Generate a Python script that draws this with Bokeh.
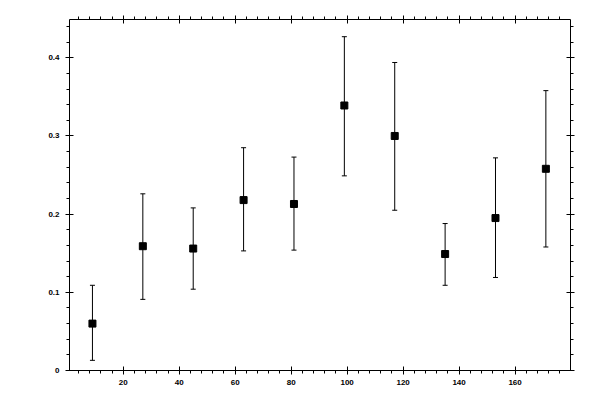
from bokeh.plotting import figure
from bokeh.models import (LinearAxis, Range1d, FixedTicker, Whisker, ColumnDataSource, TeeHead,
                          CustomLabelingPolicy)
from bokeh.embed import file_html
from bokeh.resources import INLINE

# data
x_vals = [9, 27, 45, 63, 81, 99, 117, 135, 153, 171]
y_vals = [0.060, 0.159, 0.156, 0.218, 0.213, 0.339, 0.300, 0.149, 0.195, 0.258]
y_upper = [0.109, 0.226, 0.208, 0.285, 0.273, 0.427, 0.394, 0.188, 0.272, 0.358]
y_lower = [0.013, 0.091, 0.104, 0.153, 0.154, 0.249, 0.205, 0.109, 0.119, 0.158]

x_ticks = [20, 40, 60, 80, 100, 120, 140, 160]
x_minor = [4 * i for i in range(1, 45)]
y_ticks = [0, 0.1, 0.2, 0.3, 0.4]
y_tick_labels = ["0", "0.1", "0.2", "0.3", "0.4"]
y_minor = [round(0.02 * i, 2) for i in range(0, 23)]

src = ColumnDataSource(dict(x=x_vals, y=y_vals, upper=y_upper, lower=y_lower))

p = figure(width=590, height=392, output_backend="svg", toolbar_location=None,
           x_range=Range1d(0.8, 179.8), y_range=Range1d(0, 0.449),
           x_axis_location=None, y_axis_location=None,
           min_border_left=69, min_border_right=20, min_border_top=19, min_border_bottom=22,
           background_fill_color="white", border_fill_color="white")
p.outline_line_color = None
p.xgrid.visible = False
p.ygrid.visible = False

xt = FixedTicker(ticks=x_ticks, minor_ticks=x_minor)
yt = FixedTicker(ticks=y_ticks, minor_ticks=y_minor)
overrides = {t: l for t, l in zip(y_ticks, y_tick_labels)}

no_labels = CustomLabelingPolicy(code="""
    const all = [...indices]
    for (const i of all) indices.unset(i)
    return indices
""")


def style(ax, labels):
    ax.axis_line_color = "black"
    ax.axis_line_width = 1
    ax.major_tick_line_color = "black"
    ax.minor_tick_line_color = "black"
    ax.major_tick_in = 4
    ax.major_tick_out = 4
    ax.minor_tick_in = 0
    ax.minor_tick_out = 3
    ax.major_label_text_font = "Liberation Sans"
    ax.major_label_text_font_style = "bold"
    ax.major_label_text_font_size = "8px"
    ax.major_label_text_color = "black"
    if not labels:
        ax.major_label_policy = no_labels
        ax.major_label_standoff = 0


bottom = LinearAxis(ticker=xt)
style(bottom, True)
bottom.major_label_standoff = 5
top = LinearAxis(ticker=xt)
style(top, False)
left = LinearAxis(ticker=yt, major_label_overrides=overrides)
style(left, True)
left.major_label_standoff = 6
right = LinearAxis(ticker=yt)
style(right, False)

p.add_layout(bottom, "below")
p.add_layout(top, "above")
p.add_layout(left, "left")
p.add_layout(right, "right")

w = Whisker(source=src, base="x", upper="upper", lower="lower", dimension="height",
            line_color="black", line_width=1,
            upper_head=TeeHead(size=5, line_color="black", line_width=1),
            lower_head=TeeHead(size=5, line_color="black", line_width=1))
p.add_layout(w)

p.scatter("x", "y", source=src, marker="square", size=7, fill_color="black", line_color="black")

open("out.html", "w").write(file_html(p, INLINE))
